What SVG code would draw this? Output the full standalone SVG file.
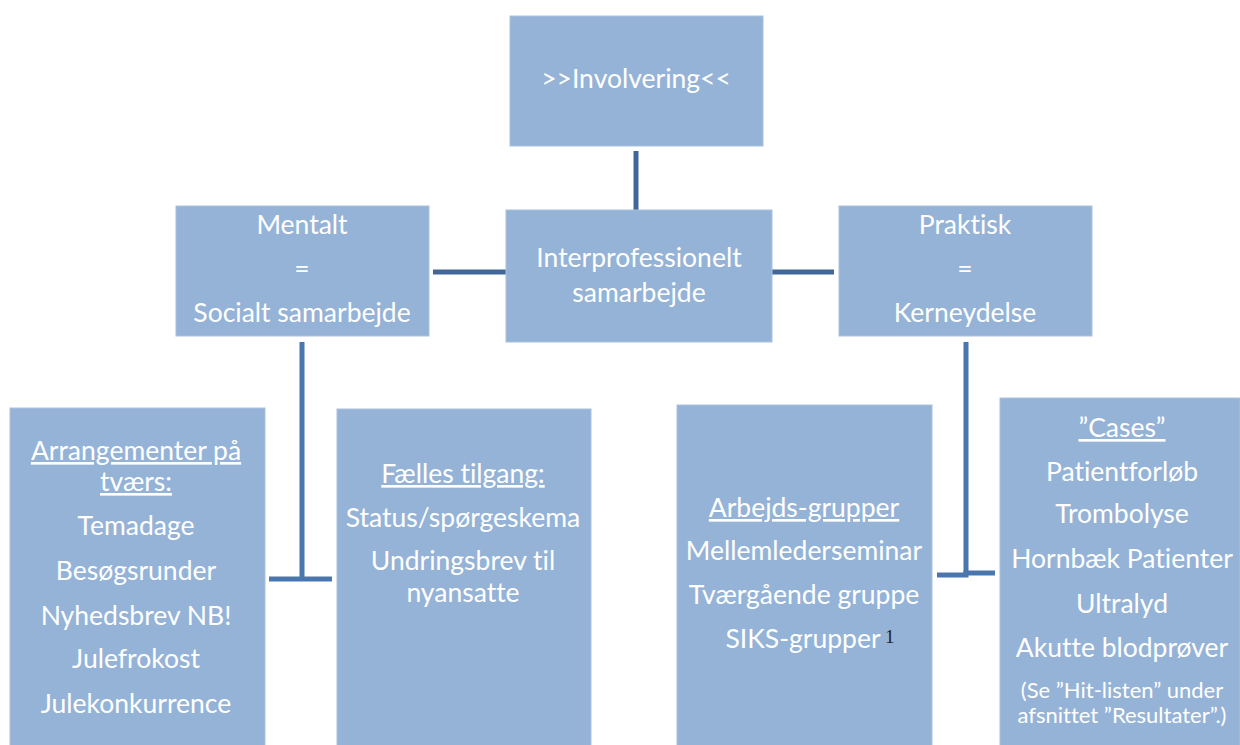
<svg xmlns="http://www.w3.org/2000/svg" width="1240" height="745" viewBox="0 0 1240 745">
<style>
.box{fill:#95B3D7;stroke:#A9C1DE;stroke-width:1}
.t{font-family:Lato,"Liberation Sans",sans-serif;font-size:26.5px;fill:#FFFFFF;text-anchor:middle;font-variant-ligatures:none}
.s{font-size:22px}
.u{text-decoration:underline}
.c1{stroke:#41679A;stroke-width:5;fill:none}
.c2{stroke:#4A76AE;stroke-width:5;fill:none}
</style>
<rect width="1240" height="745" fill="#FFFFFF"/>
<g id="connectors">
<line class="c1" x1="636" y1="151" x2="636" y2="210"/>
<line class="c1" x1="433" y1="272" x2="506" y2="272"/>
<line class="c1" x1="772" y1="272" x2="834" y2="272"/>
<line class="c2" x1="302" y1="342" x2="302" y2="580"/>
<line class="c2" x1="269" y1="579" x2="332" y2="579"/>
<line class="c2" x1="966" y1="342" x2="966" y2="575"/>
<path class="c2" d="M937 575 H966 V573 H995"/>
</g>
<g id="involvering">
<rect class="box" x="510" y="16" width="253" height="130"/>
<text class="t" x="636" y="88">&gt;&gt;Involvering&lt;&lt;</text>
</g>
<g id="interprofessionelt">
<rect class="box" x="506" y="210" width="266" height="132"/>
<text class="t" x="639" y="267">Interprofessionelt</text>
<text class="t" x="639" y="302">samarbejde</text>
</g>
<g id="mentalt">
<rect class="box" x="176" y="206" width="253" height="130"/>
<text class="t" x="302" y="234">Mentalt</text>
<text class="t" x="302" y="278">=</text>
<text class="t" x="302" y="322">Socialt samarbejde</text>
</g>
<g id="praktisk">
<rect class="box" x="839" y="206" width="253" height="130"/>
<text class="t" x="965" y="234">Praktisk</text>
<text class="t" x="965" y="278">=</text>
<text class="t" x="965" y="322">Kerneydelse</text>
</g>
<g id="arrangementer">
<rect class="box" x="10" y="408" width="255" height="345"/>
<text class="t u" x="136" y="460">Arrangementer på</text>
<text class="t u" x="136" y="491">tværs:</text>
<text class="t" x="136" y="535">Temadage</text>
<text class="t" x="136" y="580">Besøgsrunder</text>
<text class="t" x="136" y="625">Nyhedsbrev NB!</text>
<text class="t" x="136" y="668">Julefrokost</text>
<text class="t" x="136" y="713">Julekonkurrence</text>
</g>
<g id="faelles">
<rect class="box" x="337" y="409" width="254" height="345"/>
<text class="t u" x="463" y="483">Fælles tilgang:</text>
<text class="t" x="463" y="527">Status/spørgeskema</text>
<text class="t" x="463" y="570">Undringsbrev til</text>
<text class="t" x="463" y="602">nyansatte</text>
</g>
<g id="arbejdsgrupper">
<rect class="box" x="677" y="405" width="255" height="345"/>
<text class="t u" x="804" y="517">Arbejds-grupper</text>
<text class="t" x="804" y="560">Mellemlederseminar</text>
<text class="t" x="804" y="604">Tværgående gruppe</text>
<text class="t" x="803" y="648">SIKS-grupper</text>
<text x="885" y="643" font-family="Liberation Serif,serif" font-size="19" fill="#222222">1</text>
</g>
<g id="cases">
<rect class="box" x="1000" y="398" width="240" height="355"/>
<text class="t u" x="1122" y="437">”Cases”</text>
<text class="t" x="1122" y="481">Patientforløb</text>
<text class="t" x="1122" y="523">Trombolyse</text>
<text class="t" x="1122" y="568">Hornbæk Patienter</text>
<text class="t" x="1122" y="613">Ultralyd</text>
<text class="t" x="1122" y="657">Akutte blodprøver</text>
<text class="t s" x="1122" y="698">(Se ”Hit-listen” under</text>
<text class="t s" x="1122" y="723">afsnittet ”Resultater”.)</text>
</g>
</svg>
